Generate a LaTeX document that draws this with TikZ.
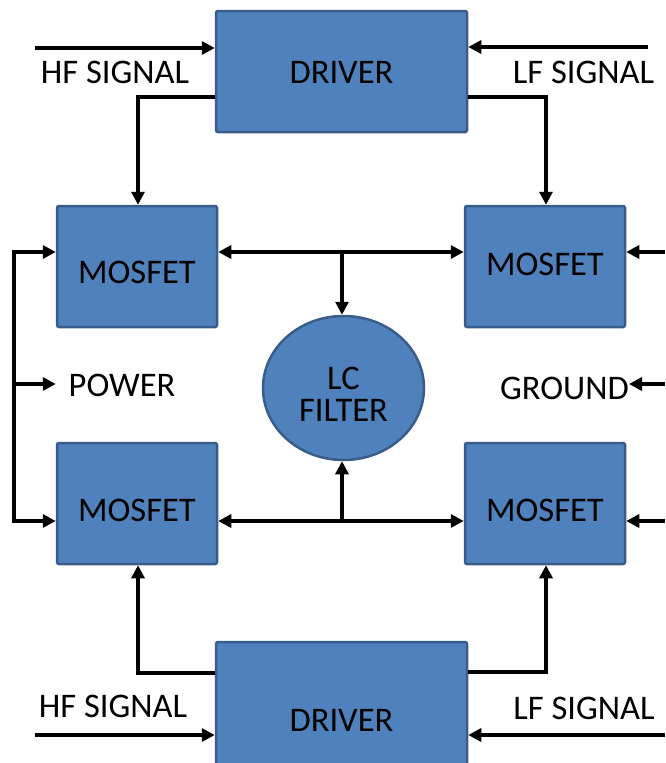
\documentclass[tikz,border=0pt]{standalone}
\usepackage{fontspec}
\setmainfont{Carlito}
\usetikzlibrary{arrows.meta,shapes.geometric}
\definecolor{boxfill}{HTML}{4F81BD}
\definecolor{boxline}{HTML}{385D8A}
\tikzset{
  blk/.style={draw=boxline, fill=boxfill, line width=2.5pt, rounded corners=2pt, inner sep=0pt},
  mos/.style={blk, minimum width=160pt, minimum height=121pt},
  drv/.style={blk, minimum width=251pt},
  lbl/.style={inner sep=0pt, font=\fontsize{34.5}{40}\selectfont},
  wire/.style={line width=4pt},
  arr/.style={wire, -{Triangle[length=13pt,width=13pt]}},
  dbl/.style={wire, {Triangle[length=13pt,width=13pt]}-{Triangle[length=13pt,width=13pt]}},
}
\begin{document}
\begin{tikzpicture}[x=1pt,y=-1pt]
\useasboundingbox (0,0) rectangle (665,763);
\clip (0,0) rectangle (665,763);
% blocks
\node[drv, minimum height=121pt] (drvT) at (341.5,71.5) {};
\node[drv, minimum height=156pt] (drvB) at (341.5,720) {};
\node[mos] (tlm) at (137,266.5) {};
\node[mos] (trm) at (545,266.5) {};
\node[mos] (blm) at (137,503.5) {};
\node[mos] (brm) at (545,503.5) {};
\node[ellipse, draw=boxline, fill=boxfill, line width=2.5pt, minimum width=161pt, minimum height=144pt, inner sep=0pt] (lc) at (343.5,388) {};
% block texts
\node[lbl] (drvTt) at (341.5,72) {DRIVER};
\node[lbl] (drvBt) at (341.5,720) {DRIVER};
\node[lbl] (tlmt) at (137,272) {MOSFET};
\node[lbl] (trmt) at (545,264) {MOSFET};
\node[lbl] (blmt) at (137,510) {MOSFET};
\node[lbl] (brmt) at (545,510) {MOSFET};
\node[lbl] (lct1) at (343.5,378) {LC};
\node[lbl] (lct2) at (343.5,410) {FILTER};
% labels
\node[lbl] (hfT) at (115,72) {HF SIGNAL};
\node[lbl] (lfT) at (583.5,72) {LF SIGNAL};
\node[lbl] (hfB) at (113,706) {HF SIGNAL};
\node[lbl] (lfB) at (584,708) {LF SIGNAL};
\node[lbl] (power) at (122,385) {POWER};
\node[lbl, anchor=east] (ground) at (629,388) {GROUND};
% free ends
\coordinate (hfTin) at (35,48);
\coordinate (lfTin) at (648,47);
\coordinate (hfBin) at (35,735);
\coordinate (lfBin) at (665,735);
\coordinate (busT) at (14,252);
\coordinate (busB) at (14,521);
\coordinate (busM) at (14,384);
\coordinate (trin) at (665,252);
\coordinate (brin) at (665,521);
\coordinate (gin) at (665,384);
\coordinate (tl) at (138,97);
\coordinate (tr) at (546,97);
\coordinate (bl) at (138,673);
\coordinate (br) at (546,672);
\coordinate (midT) at (342,252);
\coordinate (midB) at (342,521);
% signal inputs
\draw[arr] (hfTin) -- (hfTin -| drvT.west);
\draw[arr] (lfTin) -- (lfTin -| drvT.east);
\draw[arr] (hfBin) -- (hfBin -| drvB.west);
\draw[arr] (lfBin) -- (lfBin -| drvB.east);
% driver to mosfets
\draw[arr] (tl -| drvT.west) -- (tl) -- (tl |- tlm.north);
\draw[arr] (tr -| drvT.east) -- (tr) -- (tr |- trm.north);
\draw[arr] (bl -| drvB.west) -- (bl) -- (bl |- blm.south);
\draw[arr] (br -| drvB.east) -- (br) -- (br |- brm.south);
% mosfet links and filter
\draw[dbl] (midT -| tlm.east) -- (midT -| trm.west);
\draw[dbl] (midB -| blm.east) -- (midB -| brm.west);
\draw[arr] (midT) -- (midT |- lc.north);
\draw[arr] (midB) -- (midB |- lc.south);
% power bus
\draw[dbl] (busT -| tlm.west) -- (busT) -- (busB) -- (busB -| blm.west);
\draw[arr] (busM) -- (busM -| tlm.west);
% right side
\draw[arr] (trin) -- (trin -| trm.east);
\draw[arr] (brin) -- (brin -| brm.east);
\draw[arr] (gin) -- (gin -| ground.east);
\end{tikzpicture}
\end{document}
